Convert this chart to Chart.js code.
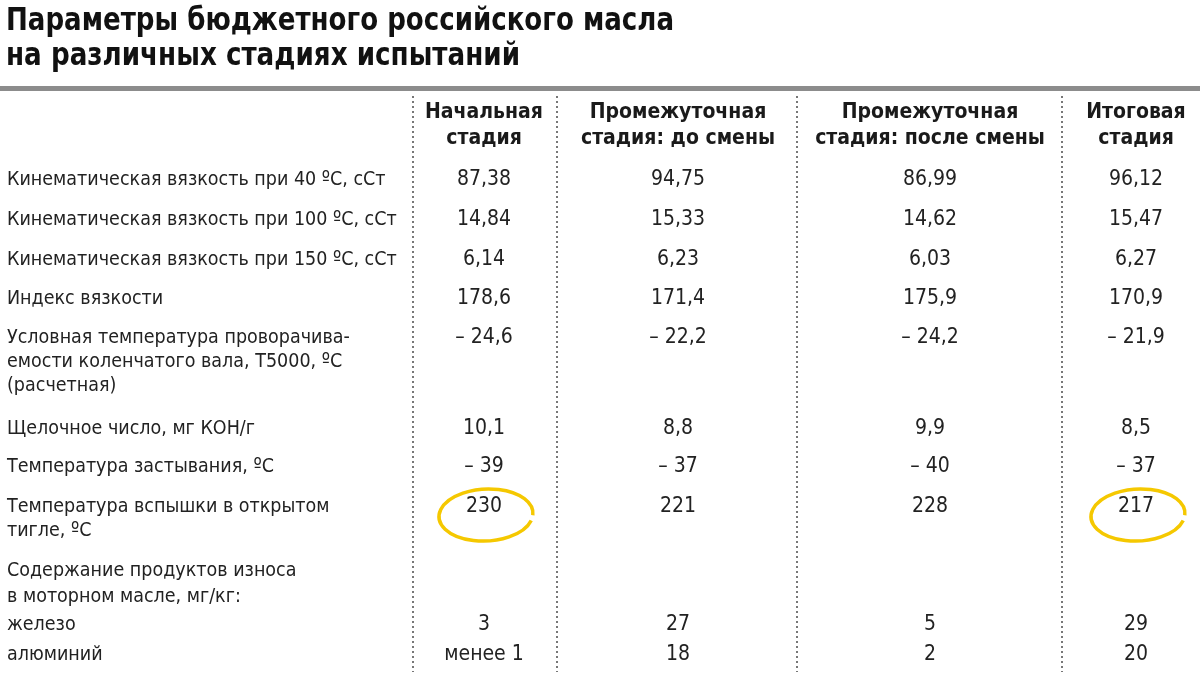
<!DOCTYPE html>
<html><head><meta charset="utf-8">
<script src="https://cdn.jsdelivr.net/npm/chart.js@4/dist/chart.umd.min.js"></script>
<style>html,body{margin:0;padding:0;background:#fff}#c{display:block}</style>
</head><body>
<div style="width:1200px;height:676px"><canvas id="c"></canvas></div>
<script>
const titleLines = ["Параметры бюджетного российского масла", "на различных стадиях испытаний"];
const stages = [["Начальная","стадия"],["Промежуточная","стадия: до смены"],["Промежуточная","стадия: после смены"],["Итоговая","стадия"]];
const rowLabels = [
  ["Кинематическая вязкость при 40 ºС, сСт"],
  ["Кинематическая вязкость при 100 ºС, сСт"],
  ["Кинематическая вязкость при 150 ºС, сСт"],
  ["Индекс вязкости"],
  ["Условная температура проворачива-","емости коленчатого вала, Т5000, ºС","(расчетная)"],
  ["Щелочное число, мг КОН/г"],
  ["Температура застывания, ºС"],
  ["Температура вспышки в открытом","тигле, ºС"],
  ["Содержание продуктов износа","в моторном масле, мг/кг:"],
  ["железо"],
  ["алюминий"]
];
const initial   = ["87,38","14,84","6,14","178,6","– 24,6","10,1","– 39","230","","3","менее 1"];
const midBefore = ["94,75","15,33","6,23","171,4","– 22,2","8,8","– 37","221","","27","18"];
const midAfter  = ["86,99","14,62","6,03","175,9","– 24,2","9,9","– 40","228","","5","2"];
const finalSt   = ["96,12","15,47","6,27","170,9","– 21,9","8,5","– 37","217","","29","20"];
const highlighted = [[0,7],[3,7]];

// layout (not data)
const colX = [484,678,930,1136];
const sepX = [413,557,797,1062];
const rowY = [180,220,260,299,338,429,467,507,571,625,655];
const series = [initial, midBefore, midAfter, finalSt];
const F = "'DejaVu Sans Condensed','DejaVu Sans',sans-serif";

const datasets = series.map((vals,ci)=>({
  data: vals.map((v,ri)=>({x:colX[ci], y:rowY[ri], t:v})),
  pointRadius:0, showLine:false
}));

const tablePlugin = {
  id:'table',
  afterDraw(chart){
    const c=chart.ctx, xs=chart.scales.x, ys=chart.scales.y;
    const X=v=>xs.getPixelForValue(v), Y=v=>ys.getPixelForValue(v);
    c.save();
    c.textBaseline='middle';
    c.fillStyle='#111'; c.textAlign='left';
    c.font="bold 32px "+F;
    c.fillText(titleLines[0],X(6),Y(22),668);
    c.fillText(titleLines[1],X(6),Y(57),514);
    c.fillStyle='#8c8c8c'; c.fillRect(X(0),Y(86),X(1200)-X(0),Y(91)-Y(86));
    c.strokeStyle='#777'; c.lineWidth=2; c.setLineDash([2,3]);
    sepX.forEach(sx=>{c.beginPath();c.moveTo(X(sx),Y(96));c.lineTo(X(sx),Y(672));c.stroke();});
    c.setLineDash([]);
    c.fillStyle='#1a1a1a'; c.textAlign='center'; c.font="bold 21px "+F;
    stages.forEach((s,i)=>{c.fillText(s[0],X(colX[i]),Y(113));c.fillText(s[1],X(colX[i]),Y(139));});
    c.textAlign='left'; c.font="20px "+F; c.fillStyle='#222';
    rowLabels.forEach((lines,ri)=>{
      lines.forEach((l,li)=>{
        const yy = ri===8 ? rowY[ri]+li*26 : rowY[ri]+li*24;
        const w = c.measureText(l).width;
        c.fillText(l,X(7),Y(yy),w*0.975);
      });
    });
    c.textAlign='center'; c.font="21px "+F;
    chart.data.datasets.forEach(ds=>ds.data.forEach(p=>{ if(p.t) c.fillText(p.t,X(p.x),Y(p.y)); }));
    c.strokeStyle='#f5c800'; c.lineWidth=3.5;
    highlighted.forEach(([ci,ri])=>{
      const cx=X(colX[ci])+2, cy=Y(rowY[ri]+8);
      c.beginPath(); c.ellipse(cx,cy,47,26,-0.05,0.3,Math.PI*2+0.1); c.stroke();
    });
    c.restore();
  }
};

new Chart(document.getElementById('c'),{
  type:'scatter',
  data:{datasets},
  options:{
    responsive:true, maintainAspectRatio:false, animation:false,
    layout:{padding:0},
    plugins:{legend:{display:false},tooltip:{enabled:false}},
    scales:{
      x:{type:'linear',min:0,max:1200,display:false},
      y:{type:'linear',min:0,max:676,reverse:true,display:false}
    }
  },
  plugins:[tablePlugin]
});
</script>
</body></html>
